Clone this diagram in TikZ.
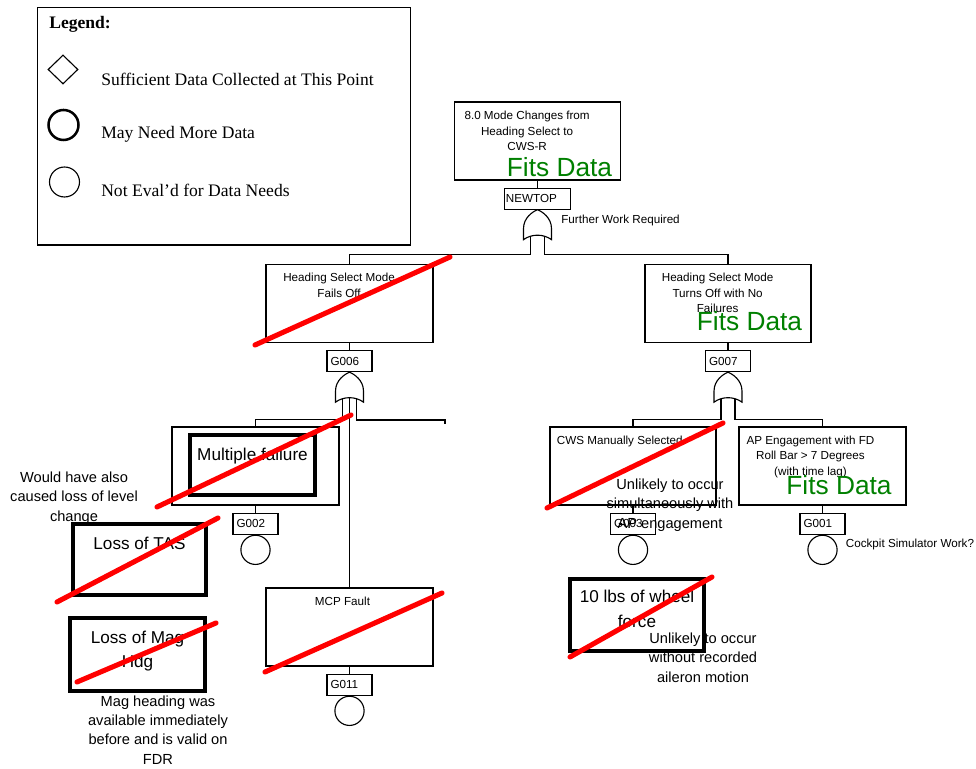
\documentclass[tikz,border=0pt]{standalone}
\usepackage{fontspec}
\setmainfont{Liberation Sans}
\newfontfamily\legendfont{Liberation Serif}
\usepackage{xcolor}
\usetikzlibrary{positioning,shapes.geometric}

\begin{document}
\begin{tikzpicture}[
  evbox/.style={draw, rectangle, line width=0.8pt, inner sep=0,
                minimum width=4.175cm, minimum height=1.95cm},
  evtxt/.style={align=center, inner sep=0, font=\fontsize{8.3}{11}\selectfont},
  gbox/.style={draw, rectangle, line width=0.8pt, inner xsep=2.5pt, inner ysep=0,
               minimum height=0.525cm, text width=0.95cm, align=left,
               font=\fontsize{8.3}{10}\selectfont},
  heavy/.style={draw, rectangle, line width=2.8pt, inner sep=0},
  bigtxt/.style={align=center, inner sep=0, font=\fontsize{12.2}{17.5}\selectfont},
  basic/.style={draw, circle, line width=0.8pt, inner sep=0, minimum size=0.73cm},
  fits/.style={inner sep=0, text=green!50!black, font=\fontsize{18.7}{20}\selectfont},
  note/.style={align=center, inner sep=0, font=\fontsize{10.4}{13.8}\selectfont},
  remark/.style={inner sep=0, font=\fontsize{8.3}{10}\selectfont},
  legtxt/.style={inner sep=0, anchor=base west,
                 font=\legendfont\fontsize{12.5}{15}\selectfont},
  strike/.style={red, line width=3.6pt, line cap=round},
  wire/.style={line width=0.8pt},
  orgate/.pic={
    \draw[wire] (0,0) .. controls (0.12,-0.05) and (0.35,-0.2) .. (0.35,-0.475)
      -- (0.35,-0.75) .. controls (0.15,-0.6) and (-0.15,-0.6) .. (-0.35,-0.75)
      -- (-0.35,-0.475) .. controls (-0.35,-0.2) and (-0.12,-0.05) .. (0,0) -- cycle;
    \coordinate (-l) at (-0.175,-0.665);
    \coordinate (-m) at (0,-0.64);
    \coordinate (-r) at (0.175,-0.665);
  }
]
\useasboundingbox (0,0) rectangle (24.4,19.2);

% ── Legend ──
\node[draw, line width=0.8pt, inner sep=0, minimum width=9.33cm,
      minimum height=5.945cm] (legend) at (5.605,16.0475) {};
\node[legtxt, font=\legendfont\bfseries\fontsize{12.5}{15}\selectfont]
     (legtitle) at (1.225,18.475) {Legend:};
\node[draw, diamond, line width=0.8pt, inner sep=0, minimum width=0.75cm,
      minimum height=0.725cm] (legdia) at (1.575,17.4625) {};
\node[basic, line width=1.8pt, minimum size=0.75cm] (legmore) at (1.5875,16.075) {};
\node[basic, minimum size=0.75cm] (legnone) at (1.6125,14.65) {};
\node[legtxt] (legsuff) at (2.525,17.05) {Sufficient Data Collected at This Point};
\node[legtxt] (legneed) at (2.525,15.725) {May Need More Data};
\node[legtxt] (legnot)  at (2.525,14.275) {Not Eval’d for Data Needs};

% ── Top event ──
\node[evbox, minimum width=4.14cm] (top) at (13.4375,15.675) {};
\node[evtxt, below=0.24cm of top.north, xshift=-0.26cm] (toptxt)
     {8.0 Mode Changes from\\Heading Select to\\CWS-R};
\node[fits] (topfit) at (13.9875,15.0125) {Fits Data};
\node[gbox, text width=1.58cm, inner xsep=1pt, below=0.175cm of top] (newtop) {NEWTOP};
\draw[wire] (top) -- (newtop);
\pic (gt) at (newtop.south) {orgate};
\node[remark, anchor=west] (fwr) at ([xshift=0.5875cm, yshift=-0.275cm]newtop.south)
     {Further Work Required};

% ── Second level ──
\node[evbox] (hsfail) at (8.7375,11.6125) {};
\node[evtxt, below=0.23cm of hsfail.north, xshift=-0.26cm] (hsfailtxt)
     {Heading Select Mode\\Fails Off};
\node[evbox, minimum width=4.15cm] (hsoff) at (18.2,11.6125) {};
\node[evtxt, below=0.23cm of hsoff.north, xshift=-0.26cm] (hsofftxt)
     {Heading Select Mode\\Turns Off with No\\Failures};
\node[fits] (hsofffit) at (18.7375,11.175) {Fits Data};
\draw[wire] (gt-l) |- ([yshift=0.225cm]hsfail.north) -- (hsfail.north);
\draw[wire] (gt-r) |- ([yshift=0.225cm]hsoff.north) -- (hsoff.north);

% ── G006 branch ──
\node[gbox, below=0.175cm of hsfail] (g006) {G006};
\draw[wire] (hsfail) -- (g006);
\pic (g6) at (g006.south) {orgate};

\node[evbox] (mfout) at (6.3875,7.55) {};
\node[heavy, minimum width=3.125cm, minimum height=1.5cm] (mfin) at (6.3125,7.575) {};
\node[bigtxt, below=0.38cm of mfin.north] (mftxt) {Multiple failure};
\node[gbox, below=0.175cm of mfout] (g002) {G002};
\node[basic, below=0pt of g002] (e002) {};
\draw[wire] (mfout) -- (g002);

\node[evbox] (mcp) at (8.7375,3.525) {};
\node[evtxt, below=0.23cm of mcp.north, xshift=-0.175cm] (mcptxt) {MCP Fault};
\node[gbox, below=0.175cm of mcp] (g011) {G011};
\node[basic, below=0pt of g011] (e011) {};
\draw[wire] (mcp) -- (g011);

\coordinate (spare) at (11.125,8.6);

\draw[wire] (g6-l) |- ([yshift=0.175cm]mfout.north) -- (mfout.north);
\draw[wire] (g6-m) -- (mcp.north);
\draw[wire] (g6-r) |- ([yshift=0.1cm]spare) -- (spare);

% ── G007 branch ──
\node[gbox, below=0.175cm of hsoff] (g007) {G007};
\draw[wire] (hsoff) -- (g007);
\pic (g7) at (g007.south) {orgate};

\node[evbox, minimum width=4.15cm] (cws) at (15.825,7.55) {};
\node[evtxt, below=0.23cm of cws.north, xshift=-0.33cm] (cwstxt) {CWS Manually Selected};
\node[gbox, below=0.175cm of cws] (g003) {G003};
\node[basic, below=0pt of g003] (e003) {};
\draw[wire] (cws) -- (g003);

\node[evbox] (ap) at (20.5625,7.55) {};
\node[evtxt, below=0.23cm of ap.north, xshift=-0.3cm] (aptxt)
     {AP Engagement with FD\\Roll Bar > 7 Degrees\\(with time lag)};
\node[fits] (apfit) at (20.975,7.075) {Fits Data};
\node[gbox, below=0.175cm of ap] (g001) {G001};
\node[basic, below=0pt of g001] (e001) {};
\draw[wire] (ap) -- (g001);
\node[remark, anchor=west] (csw) at ([yshift=-0.25cm]g001.south east)
     {Cockpit Simulator Work?};

\draw[wire] (g7-l) |- ([yshift=0.175cm]cws.north) -- (cws.north);
\draw[wire] (g7-r) |- ([yshift=0.175cm]ap.north) -- (ap.north);

% ── Events ruled out ──
\node[heavy, minimum width=3.325cm, minimum height=1.775cm] (tas) at (3.4875,5.2125) {};
\node[bigtxt, below=0.38cm of tas.north] (tastxt) {Loss of TAS};
\node[heavy, minimum width=3.375cm, minimum height=1.825cm] (mag) at (3.4375,2.8375) {};
\node[bigtxt, below=0.36cm of mag.north] (magtxt) {Loss of Mag\\Hdg};
\node[heavy, minimum width=3.35cm, minimum height=1.8cm] (whl) at (15.925,3.825) {};
\node[bigtxt, below=0.33cm of whl.north] (whltxt) {10 lbs of wheel\\force};

% ── Notes ──
\node[note] (n1) at (1.85,6.75) {Would have also\\caused loss of level\\change};
\node[note] (n2) at (3.95,0.95)
     {Mag heading was\\available immediately\\before and is valid on\\FDR};
\node[note] (n3) at (16.75,6.575) {Unlikely to occur\\simultaneously with\\AP engagement};
\node[note] (n4) at (17.575,2.7625) {Unlikely to occur\\without recorded\\aileron motion};

% ── Strike-outs ──
\draw[strike] (6.375,10.575) -- (11.25,12.775);
\draw[strike] (3.925,6.525) -- (8.775,8.825);
\draw[strike] (1.425,4.15) -- (5.45,6.25);
\draw[strike] (1.925,2.15) -- (5.4,3.625);
\draw[strike] (6.625,2.4) -- (11.05,4.375);
\draw[strike] (13.675,6.5) -- (18.075,8.625);
\draw[strike] (14.25,2.775) -- (17.8,4.775);

\end{tikzpicture}
\end{document}
